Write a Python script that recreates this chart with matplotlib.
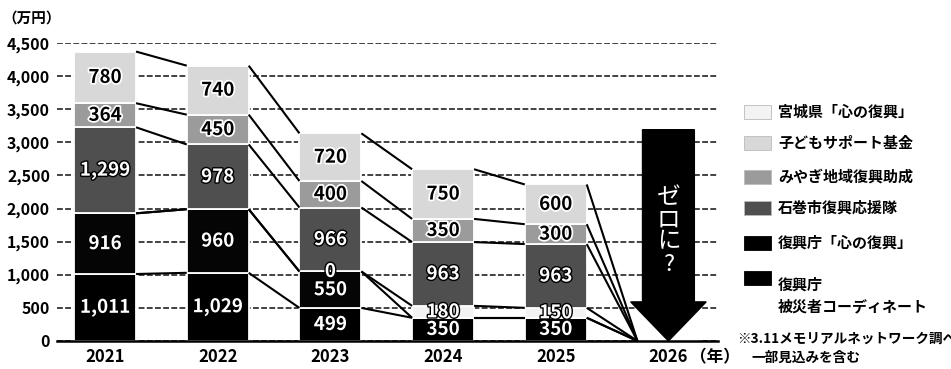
import numpy as np
import matplotlib
matplotlib.use("Agg")
import matplotlib.pyplot as plt
import matplotlib.patheffects as pe
from matplotlib.patches import Rectangle

plt.rcParams['font.family'] = ['Noto Sans CJK JP', 'DejaVu Sans']
plt.rcParams['font.weight'] = 'bold'

years = ["2021", "2022", "2023", "2024", "2025", "2026"]

# stacked bottom -> top; None = no entry that year
hisaisha_coord = [1011, 1029, 499, 350, 350, None]
fukkocho_kokoro = [916, 960, 550, None, None, None]
miyagi_kokoro = [None, None, 0, 180, 150, None]
ishinomaki = [1299, 978, 966, 963, 963, None]
miyagi_josei = [364, 450, 400, 350, 300, None]
kodomo_fund = [780, 740, 720, 750, 600, None]

series = [hisaisha_coord, fukkocho_kokoro, miyagi_kokoro,
          ishinomaki, miyagi_josei, kodomo_fund]
colors = ["#000000", "#050505", "#f3f3f3", "#4f4f4f", "#9b9b9b", "#d8d8d8"]
dark_text = [True, True, True, True, False, False]

legend_labels = ["宮城県「心の復興」", "子どもサポート基金", "みやぎ地域復興助成",
                 "石巻市復興応援隊", "復興庁「心の復興」", "復興庁\n被災者コーディネート"]
legend_colors = ["#f3f3f3", "#d8d8d8", "#9b9b9b", "#4f4f4f", "#000000", "#000000"]

yticks = np.arange(0, 4501, 500)

fig = plt.figure(figsize=(9.51, 3.69), dpi=100)
ax = fig.add_axes([0.060, 0.076, 0.695, 0.8076])

x = np.arange(len(years))
w = 0.55

for y in yticks:
    ax.axhline(y, color="#222222", lw=1.2, ls=(0, (3.5, 1.4)), zorder=0)

bottom = np.zeros(len(years))
tops = []
for vals, col, dark in zip(series, colors, dark_text):
    v = np.array([0 if a is None else a for a in vals], dtype=float)
    ax.bar(x, v, w, bottom=bottom, color=col, edgecolor="white", lw=1.3, zorder=2)
    for i, a in enumerate(vals):
        if a is None:
            continue
        cy = bottom[i] + a / 2
        if dark:
            ax.text(x[i], cy, f"{a:,}", ha="center", va="center", fontsize=13.5,
                    color="white", zorder=5,
                    path_effects=[pe.withStroke(linewidth=2, foreground="black")])
        else:
            ax.text(x[i], cy, f"{a:,}", ha="center", va="center", fontsize=13.5,
                    color="black", zorder=5,
                    path_effects=[pe.withStroke(linewidth=2.5, foreground="white")])
    bottom = bottom + v
    tops.append(bottom.copy())

# series lines between neighbouring bars
for t in tops:
    for i in range(len(years) - 1):
        ax.plot([x[i] + w / 2, x[i + 1] - w / 2], [t[i], t[i + 1]],
                color="black", lw=1.5, zorder=3, solid_capstyle="butt")

# big arrow over 2026
ax.arrow(x[-1], 3190, 0, -3190, width=0.46, head_width=0.67, head_length=590,
         length_includes_head=True, color="black", zorder=4)
ax.text(x[-1], 1660, "ゼ\nロ\nに\n?", ha="center", va="center", color="white",
        fontsize=17, linespacing=0.95, zorder=6, fontweight="normal")

ax.set_xlim(-0.426, 5.44)
ax.set_ylim(0, 4500)
ax.set_xticks(x)
ax.set_xticklabels(years, fontsize=12)
ax.set_yticks(yticks)
ax.set_yticklabels([f"{v:,}" for v in yticks], fontsize=11.5)
ax.tick_params(length=0, pad=5)
for s in ["left", "right", "top"]:
    ax.spines[s].set_visible(False)
ax.spines["bottom"].set_linewidth(1.8)
ax.spines["bottom"].set_zorder(5)

fig.text(690 / 951, 1 - 357 / 369, "（年）", fontsize=12, ha="left", va="center")
fig.text(2 / 951, 1 - 18 / 369, "（万円）", fontsize=10.5, ha="left", va="center")

# legend
leg_y = [112, 143, 177, 208, 243, 278]
for yy, lab, col in zip(leg_y, legend_labels, legend_colors):
    fig.add_artist(Rectangle((744 / 951, 1 - (yy + 7) / 369), 27 / 951, 14 / 369,
                             transform=fig.transFigure, facecolor=col,
                             edgecolor="#bbbbbb" if col != "#000000" else "black", lw=0.6))
    fig.text(778 / 951, 1 - (yy - 1 if "\n" in lab else yy) / 369, lab, fontsize=10.8,
             ha="left", va="top" if "\n" in lab else "center", linespacing=1.45)

fig.text(737 / 951, 1 - 339 / 369, "※3.11メモリアルネットワーク調べ", fontsize=9.8,
         ha="left", va="center")
fig.text(751 / 951, 1 - 358 / 369, "一部見込みを含む", fontsize=9.8,
         ha="left", va="center")

fig.savefig("out.png", dpi=100)
